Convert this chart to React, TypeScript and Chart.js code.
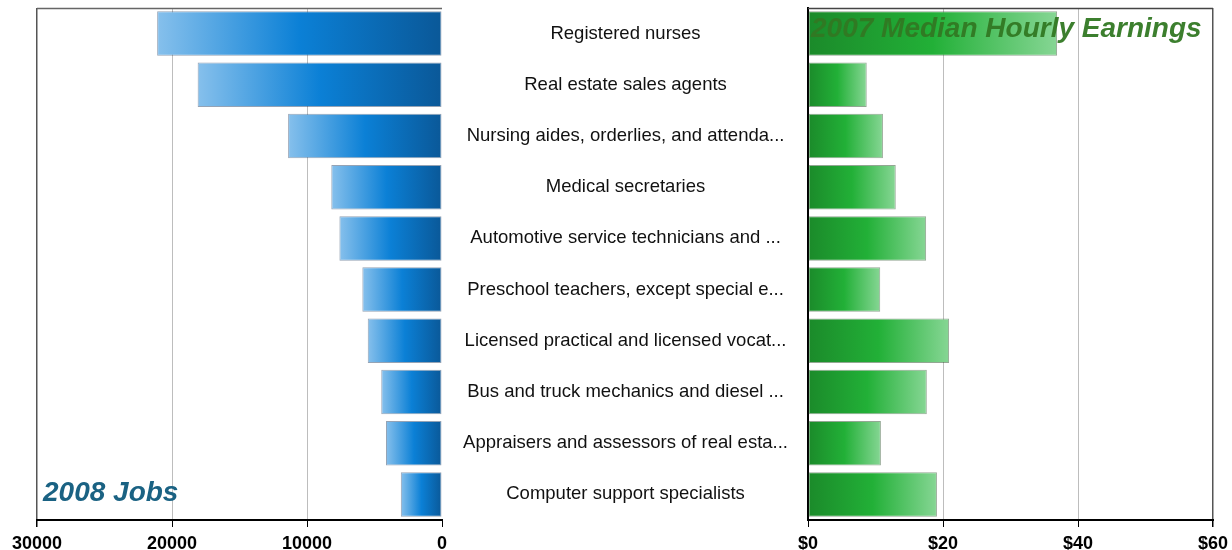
import React, { useEffect, useRef } from "react";
import { Chart, registerables } from "chart.js";

Chart.register(...registerables);

const categories = [
  "Registered nurses",
  "Real estate sales agents",
  "Nursing aides, orderlies, and attenda...",
  "Medical secretaries",
  "Automotive service technicians and ...",
  "Preschool teachers, except special e...",
  "Licensed practical and licensed vocat...",
  "Bus and truck mechanics and diesel ...",
  "Appraisers and assessors of real esta...",
  "Computer support specialists",
];

const jobs2008 = [21100, 18100, 11400, 8200, 7600, 5900, 5500, 4500, 4150, 3050];
const earnings2007 = [36.9, 8.7, 11.1, 13.0, 17.5, 10.7, 20.9, 17.6, 10.8, 19.1];

const jobsTicks = [0, 10000, 20000, 30000];
const earningsTicks = [0, 20, 40, 60];

const jobsTitle = "2008 Jobs";
const earningsTitle = "2007 Median Hourly Earnings";

const FONT = "'Liberation Sans', Arial, Helvetica, sans-serif";

function gradientFor(ctx: any, stops: [number, string][]) {
  const chart = ctx.chart;
  const xs = chart.scales.x;
  if (!xs || ctx.raw == null) return stops[0][1];
  const a = xs.getPixelForValue(0);
  const b = xs.getPixelForValue(ctx.raw);
  if (!isFinite(a) || !isFinite(b) || a === b) return stops[0][1];
  const left = Math.min(a, b);
  const right = Math.max(a, b);
  const g = chart.ctx.createLinearGradient(left, 0, right, 0);
  stops.forEach(([p, c]) => g.addColorStop(p, c));
  return g;
}

const blueStops: [number, string][] = [
  [0, "#86c0ec"],
  [0.5, "#0b80d6"],
  [1, "#0a5898"],
];
const greenStops: [number, string][] = [
  [0, "#1b8a2a"],
  [0.5, "#22b037"],
  [1, "#86d694"],
];

const framePlugin = (opts: { top?: string; left?: string; right?: string }) => ({
  id: "frame" + Math.random().toString(36).slice(2),
  beforeDatasetsDraw(chart: any) {
    const { ctx, chartArea } = chart;
    ctx.save();
    ctx.lineWidth = 1.5;
    if (opts.top) {
      ctx.strokeStyle = opts.top;
      ctx.beginPath();
      ctx.moveTo(chartArea.left, chartArea.top + 0.5);
      ctx.lineTo(chartArea.right, chartArea.top + 0.5);
      ctx.stroke();
    }
    if (opts.right) {
      ctx.strokeStyle = opts.right;
      ctx.beginPath();
      ctx.moveTo(chartArea.right - 0.5, chartArea.top);
      ctx.lineTo(chartArea.right - 0.5, chartArea.bottom);
      ctx.stroke();
    }
    if (opts.left) {
      ctx.strokeStyle = opts.left;
      ctx.beginPath();
      ctx.moveTo(chartArea.left + 0.5, chartArea.top);
      ctx.lineTo(chartArea.left + 0.5, chartArea.bottom);
      ctx.stroke();
    }
    ctx.restore();
  },
});

const titlePlugin = (text: string, color: string, size: number, where: "bl" | "tl") => ({
  id: "ttl" + Math.random().toString(36).slice(2),
  afterDatasetsDraw(chart: any) {
    const { ctx, chartArea } = chart;
    ctx.save();
    ctx.font = `italic bold ${size}px ${FONT}`;
    ctx.fillStyle = color;
    ctx.textAlign = "left";
    ctx.textBaseline = "alphabetic";
    if (where === "bl") {
      ctx.fillText(text, chartArea.left + 6, chartArea.bottom - 19);
    } else {
      ctx.fillText(text, chartArea.left + 3, chartArea.top + 29);
    }
    ctx.restore();
  },
});

export default function App() {
  const leftRef = useRef<HTMLCanvasElement>(null);
  const rightRef = useRef<HTMLCanvasElement>(null);

  useEffect(() => {
    const tickFont = { family: FONT, size: 18, weight: "bold" as const };

    const left = new Chart(leftRef.current!, {
      type: "bar",
      data: {
        labels: categories,
        datasets: [
          {
            data: jobs2008,
            backgroundColor: (ctx: any) => gradientFor(ctx, blueStops),
            borderColor: "rgba(20,50,90,0.45)",
            borderWidth: 1,
            borderSkipped: false,
            barPercentage: 0.87,
            categoryPercentage: 1,
          },
        ],
      },
      options: {
        indexAxis: "y",
        responsive: false,
        animation: false,
        layout: { padding: { left: 37, right: 18, top: 8, bottom: 0 } },
        plugins: { legend: { display: false }, tooltip: { enabled: false } },
        scales: {
          x: {
            reverse: true,
            min: 0,
            max: 30000,
            afterBuildTicks: (s: any) => {
              s.ticks = jobsTicks.map((v) => ({ value: v }));
            },
            ticks: {
              color: "#000",
              font: tickFont,
              padding: 6,
              maxRotation: 0,
              callback: (v: any) => String(v),
            },
            grid: {
              color: (c: any) =>
                c.tick && c.tick.value === 30000 ? "#555" : c.tick && c.tick.value === 0 ? "rgba(0,0,0,0)" : "#bdbdbd",
              lineWidth: (c: any) => (c.tick && c.tick.value === 30000 ? 1.5 : 1),
              drawTicks: true,
              tickLength: 7,
              tickColor: "#000",
            },
            border: { display: true, color: "#000", width: 2 },
            afterFit: (s: any) => {
              s.height = 30;
              s.paddingLeft = 0;
              s.paddingRight = 0;
            },
          },
          y: {
            display: false,
          },
        },
      },
      plugins: [framePlugin({ top: "#666" }), titlePlugin(jobsTitle, "#1a6283", 28, "bl")],
    });

    const right = new Chart(rightRef.current!, {
      type: "bar",
      data: {
        labels: categories,
        datasets: [
          {
            data: earnings2007,
            backgroundColor: (ctx: any) => gradientFor(ctx, greenStops),
            borderColor: "rgba(40,80,40,0.5)",
            borderWidth: 1,
            borderSkipped: false,
            barPercentage: 0.87,
            categoryPercentage: 1,
          },
        ],
      },
      options: {
        indexAxis: "y",
        responsive: false,
        animation: false,
        layout: { padding: { left: 0, right: 19, top: 8, bottom: 0 } },
        plugins: { legend: { display: false }, tooltip: { enabled: false } },
        scales: {
          x: {
            min: 0,
            max: 60,
            afterBuildTicks: (s: any) => {
              s.ticks = earningsTicks.map((v) => ({ value: v }));
            },
            ticks: {
              color: "#000",
              font: tickFont,
              padding: 6,
              maxRotation: 0,
              callback: (v: any) => "$" + v,
            },
            grid: {
              color: (c: any) =>
                c.tick && c.tick.value === 60 ? "#555" : c.tick && c.tick.value === 0 ? "rgba(0,0,0,0)" : "#bdbdbd",
              lineWidth: (c: any) => (c.tick && c.tick.value === 60 ? 1.5 : 1),
              drawTicks: true,
              tickLength: 7,
              tickColor: "#000",
            },
            border: { display: true, color: "#000", width: 2 },
            afterFit: (s: any) => {
              s.height = 30;
              s.paddingLeft = 0;
              s.paddingRight = 0;
            },
          },
          y: {
            grid: { display: false, drawTicks: false },
            border: { display: true, color: "#000", width: 2 },
            ticks: {
              color: "#111",
              font: { family: FONT, size: 18.5 },
              crossAlign: "center",
              padding: 20,
              autoSkip: false,
            },
            afterFit: (s: any) => {
              s.width = 367;
              s.paddingTop = 0;
              s.paddingBottom = 0;
            },
          },
        },
      },
      plugins: [framePlugin({ top: "#444" }), titlePlugin(earningsTitle, "rgba(50,120,35,0.95)", 28, "tl")],
    });

    return () => {
      left.destroy();
      right.destroy();
    };
  }, []);

  return (
    <div style={{ position: "absolute", left: 0, top: 0, width: 1232, height: 550, background: "#fff" }}>
      <canvas ref={leftRef} width={460} height={550} style={{ position: "absolute", left: 0, top: 0 }} />
      <canvas ref={rightRef} width={791} height={550} style={{ position: "absolute", left: 441, top: 0 }} />
    </div>
  );
}
